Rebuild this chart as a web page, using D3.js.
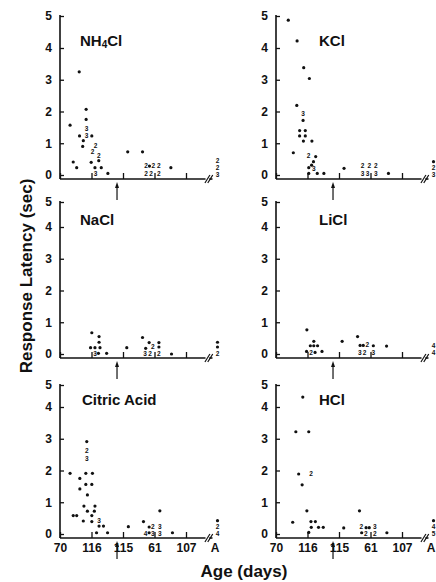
<html lang="en">
<head>
<meta charset="utf-8">
<title>Response latency by age</title>
<style>
  body { margin: 0; background: #fff; }
  svg { display: block; }
  text { font-family: "Liberation Sans", Arial, sans-serif; fill: #111; }
  .tick text { font-size: 12px; font-weight: bold; }
  .tick line { stroke: #111; stroke-width: 1.3; }
  .axisline { stroke: #111; stroke-width: 1.6; fill: none; }
  .title { font-size: 15px; font-weight: bold; }
  .count { font-size: 6.5px; font-weight: bold; }
  .label { font-size: 17px; font-weight: bold; }
</style>
</head>
<body>
<script src="https://cdnjs.cloudflare.com/ajax/libs/d3/7.8.5/d3.min.js"></script>
<script>
// x is in tick units (0 = "70", 1 = "116", ... 5 = "A"); y is latency in sec; n = count at that spot
var panelNames = ["NH4Cl", "KCl", "NaCl", "LiCl", "Citric Acid", "HCl"];
var xTickLabels = ["70", "116", "115", "61", "107", "A"];
var yTicks = [0, 1, 2, 3, 4, 5];

var nh4cl = [
  [0.32,1.57,1],[0.61,3.25,1],[0.83,2.07,1],[0.83,1.75,1],[0.84,1.47,3],[0.84,1.24,3],
  [0.62,1.23,1],[0.74,1.08,1],[0.72,0.90,1],[1.01,1.23,1],[1.13,0.93,2],[1.03,0.72,2],
  [1.23,0.60,2],[1.23,0.45,1],[0.99,0.40,1],[0.42,0.41,1],[0.53,0.23,1],[1.11,0.23,1],
  [1.31,0.23,1],[1.13,0.04,3],[1.52,0.05,1],[2.15,0.73,1],[2.62,0.73,1],
  [2.73,0.28,2],[2.84,0.28,1],[2.96,0.28,2],[3.14,0.28,2],
  [2.73,0.05,2],[2.89,0.05,2],[3.14,0.05,2],[3.52,0.23,1],
  [5,0.44,2],[5,0.22,2],[5,0.0,3]
];
var kcl = [
  [0.39,4.87,1],[0.67,4.22,1],[0.88,3.38,1],[1.06,3.04,1],[0.66,2.19,1],[0.86,1.92,3],[0.86,1.72,1],
  [0.75,1.40,1],[0.93,1.40,1],[0.75,1.23,1],[0.93,1.23,1],[0.87,1.07,1],[1.14,1.07,1],
  [0.55,0.70,1],[1.03,0.60,2],[1.26,0.58,1],[1.19,0.42,1],[1.13,0.31,1],[1.20,0.20,3],[1.04,0.23,1],
  [1.04,0.05,1],[1.31,0.05,1],[1.52,0.05,1],[2.16,0.21,1],
  [2.75,0.28,2],[2.96,0.28,2],[3.17,0.28,2],[2.75,0.05,3],[2.91,0.05,3],[3.17,0.05,3],
  [3.57,0.05,1],[5,0.42,1],[5,0.24,2],[5,0.02,3]
];
var nacl = [
  [1.01,0.67,1],[0.97,0.20,1],[1.11,0.20,1],[1.27,0.20,1],[1.24,0.55,1],[1.24,0.37,1],
  [1.11,0.02,3],[1.22,0.02,1],[1.48,0.02,1],[2.12,0.20,1],[2.62,0.52,1],[2.72,0.18,1],
  [2.83,0.36,1],[2.95,0.24,2],[2.70,0.02,3],[2.86,0.02,2],[3.14,0.36,1],[3.14,0.22,1],
  [3.14,0.02,2],[3.54,0.0,1],[5,0.37,1],[5,0.22,1],[5,0.02,2]
];
var licl = [
  [0.98,0.76,1],[1.20,0.40,1],[1.09,0.26,1],[1.20,0.26,1],[1.32,0.26,1],[0.97,0.08,1],
  [1.11,0.05,2],[1.24,0.05,1],[1.46,0.08,1],[2.10,0.40,1],[2.59,0.55,1],
  [2.67,0.27,1],[2.77,0.27,1],[2.90,0.28,2],[2.66,0.04,3],[2.81,0.04,2],[3.09,0.26,1],[3.09,0.04,3],
  [3.51,0.25,1],[5,0.26,4],[5,0.03,4]
];
var citric = [
  [0.32,1.91,1],[0.63,1.75,1],[0.63,1.42,1],[0.85,2.91,1],[0.85,2.62,2],[0.85,2.38,3],
  [0.82,1.91,1],[1.03,1.91,1],[0.82,1.56,1],[1.01,1.56,1],[0.87,1.23,1],[0.76,0.88,1],
  [1.11,0.88,1],[0.87,0.72,1],[1.09,0.72,1],[0.42,0.58,1],[0.53,0.58,1],[1.01,0.58,1],
  [0.74,0.41,1],[1.01,0.39,1],[1.24,0.41,3],[1.24,0.25,1],[1.38,0.25,1],[1.16,0.04,1],
  [1.51,0.04,1],[2.17,0.23,1],[2.65,0.39,1],[2.83,0.22,1],[2.95,0.24,2],[2.72,0.02,4],
  [2.83,0.04,1],[2.95,0.02,3],[3.17,0.73,1],[3.17,0.24,3],[3.17,0.02,3],[3.57,0.04,1],
  [5,0.42,1],[5,0.24,2],[5,0.02,4]
];
var hcl = [
  [0.85,4.45,1],[0.63,3.22,1],[1.04,3.22,1],[0.72,1.89,1],[1.11,1.89,2],[0.83,1.55,1],
  [0.98,0.73,1],[0.53,0.37,1],[1.11,0.39,1],[1.25,0.39,1],[1.12,0.21,1],[1.35,0.21,1],
  [1.50,0.21,1],[1.04,0.05,1],[2.15,0.19,1],[2.65,0.73,1],[2.71,0.24,2],[2.86,0.20,1],
  [2.96,0.20,1],[2.72,0.04,1],[2.85,0.02,2],[3.14,0.24,3],[3.14,0.02,2],[3.52,0.04,1],
  [5,0.42,1],[5,0.24,4],[5,0.02,5]
];
var panelData = [nh4cl, kcl, nacl, licl, citric, hcl];

// layout
var W = 436, H = 582;
var colX = [60, 276];            // y axis position of each column
var rowZero = [175, 354, 534];   // pixel of y = 0
var rowTop = [16, 202, 385];     // pixel of y = 5 (top of axis)
var unitY = 31.75, unitX = 31.5;
var titleDx = [20, 43, 20, 43, 22, 43];

var svg = d3.select("body").append("svg")
    .attr("width", W).attr("height", H);

panelNames.forEach(function(name, i) {
  var col = i % 2, row = Math.floor(i / 2);
  var x0 = colX[col], y0 = rowZero[row];
  var axisY = y0 + 4;
  var bottom = row === 2;

  var x = d3.scaleLinear().domain([0, 4]).range([x0, x0 + 4 * unitX]);
  var y = d3.scaleLinear().domain([0, 4, 5]).range([y0, y0 - 4 * unitY, rowTop[row]]);

  var g = svg.append("g");

  // y axis
  var yAxis = d3.axisLeft(y).tickValues(yTicks)
      .tickSizeInner(-4).tickSizeOuter(0).tickPadding(8)
      .tickFormat(d3.format("d"));
  var ya = g.append("g").attr("transform", "translate(" + x0 + ",0)").call(yAxis);
  ya.select(".domain").remove();
  g.append("line").attr("class", "axisline")
      .attr("x1", x0).attr("x2", x0)
      .attr("y1", y(5) - 1).attr("y2", axisY);

  // x axis
  var xAxis = d3.axisBottom(x).tickValues([0, 1, 2, 3, 4, 5])
      .tickSizeInner(-6).tickSizeOuter(0).tickPadding(5)
      .tickFormat(function(d) { return bottom ? xTickLabels[d] : ""; });
  var xa = g.append("g").attr("transform", "translate(0," + axisY + ")").call(xAxis);
  xa.select(".domain").remove();
  xa.selectAll(".tick").filter(function(d) { return d === 5; }).select("line").remove();
  xa.selectAll(".tick").filter(function(d) { return d === 5; }).select("text").attr("dx", -3);
  g.append("line").attr("class", "axisline")
      .attr("x1", x0).attr("x2", x(4.62))
      .attr("y1", axisY).attr("y2", axisY);
  // axis break
  [4.68, 4.77].forEach(function(b) {
    g.append("line").attr("stroke", "#111").attr("stroke-width", 1.2)
        .attr("x1", x(b) - 2.5).attr("y1", axisY + 4)
        .attr("x2", x(b) + 2.5).attr("y2", axisY - 4);
  });
  g.append("line").attr("class", "axisline")
      .attr("x1", x(4.74)).attr("x2", x(4.84))
      .attr("y1", axisY).attr("y2", axisY);

  // arrow under the axis
  var ax = x(1.81);
  g.append("line").attr("stroke", "#111").attr("stroke-width", 1.2)
      .attr("x1", ax).attr("x2", ax).attr("y1", axisY + 6).attr("y2", axisY + 21);
  g.append("path").attr("fill", "#111")
      .attr("d", "M" + ax + "," + (axisY + 3) + "l-2,6h4z");

  // title
  var t = g.append("text").attr("class", "title")
      .attr("x", x0 + titleDx[i]).attr("y", y0 - 129);
  if (name === "NH4Cl") {
    t.append("tspan").text("NH");
    t.append("tspan").attr("font-size", "10px").attr("dy", 2).text("4");
    t.append("tspan").attr("dy", -2).text("Cl");
  } else {
    t.text(name);
  }

  // points: single dots, or a digit when several overlap
  var pts = panelData[i];
  g.selectAll(".dot").data(pts.filter(function(d) { return d[2] === 1; }))
    .enter().append("circle").attr("class", "dot")
      .attr("cx", function(d) { return x(d[0]); })
      .attr("cy", function(d) { return y(d[1]); })
      .attr("r", 1.6).attr("fill", "#111");
  g.selectAll(".count").data(pts.filter(function(d) { return d[2] > 1; }))
    .enter().append("text").attr("class", "count")
      .attr("x", function(d) { return x(d[0]); })
      .attr("y", function(d) { return y(d[1]); })
      .attr("dy", "0.35em").attr("text-anchor", "middle")
      .text(function(d) { return d[2]; });
});

// axis titles
svg.append("text").attr("class", "label")
    .attr("transform", "translate(32,276) rotate(-90)")
    .attr("text-anchor", "middle")
    .text("Response Latency (sec)");
svg.append("text").attr("class", "label")
    .attr("x", 244).attr("y", 577)
    .attr("text-anchor", "middle")
    .text("Age (days)");
</script>
</body>
</html>
